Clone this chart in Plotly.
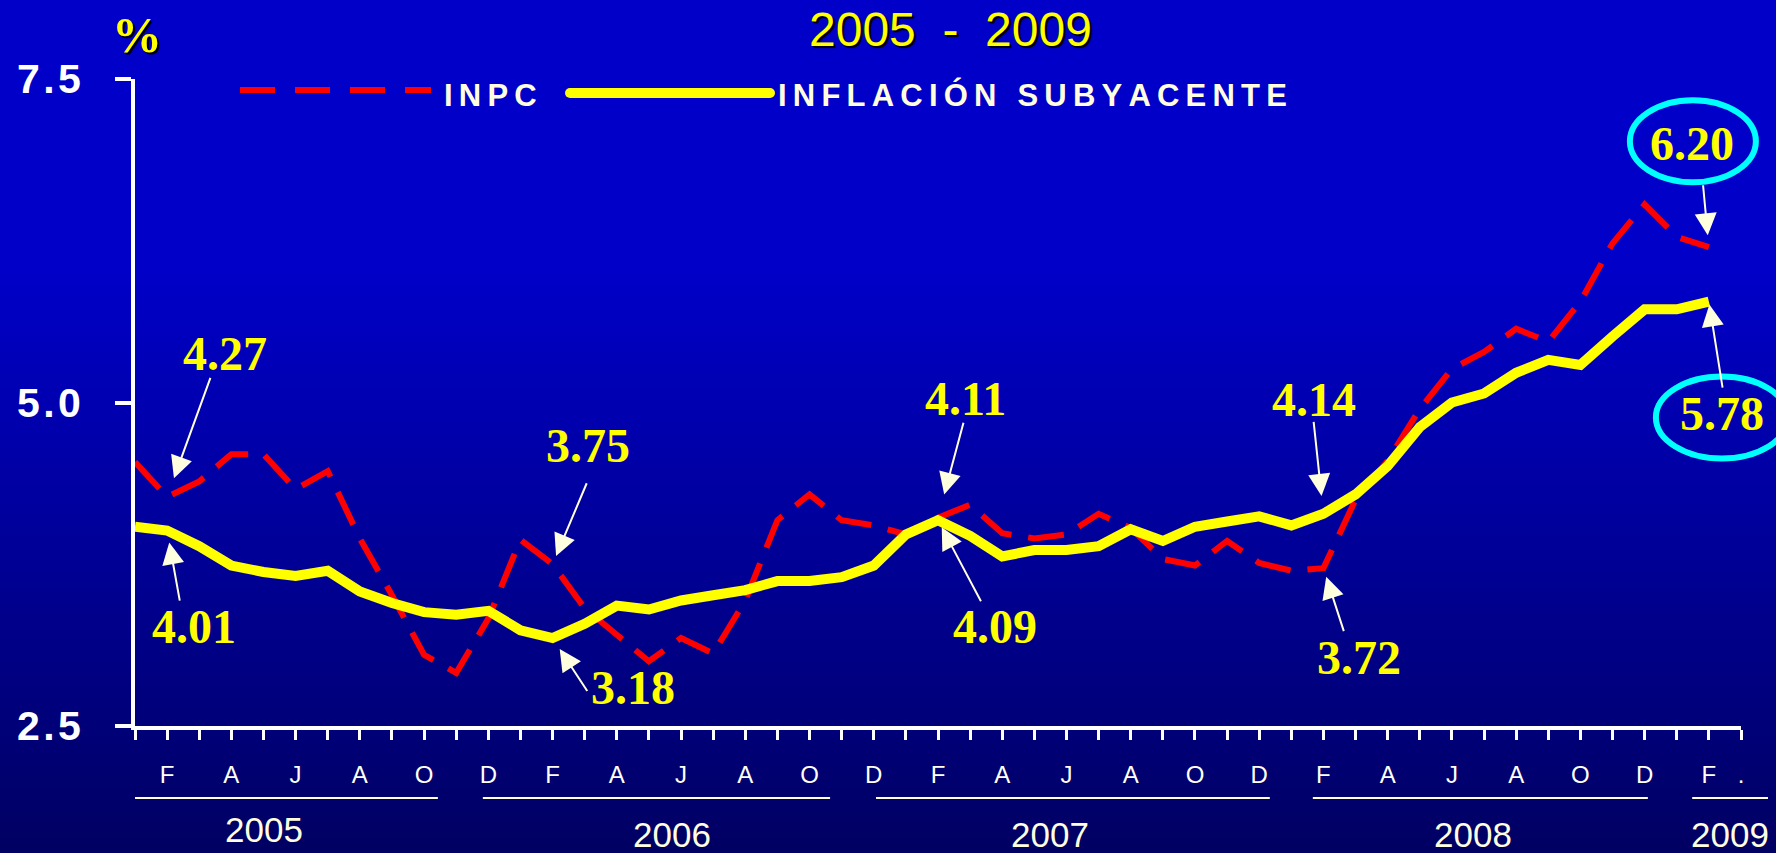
import base64
import struct
import zlib

import plotly.graph_objects as go

# ---------------------------------------------------------------------------
# Data: annual inflation, monthly, Jan 2005 - Feb 2009 (%)
# ---------------------------------------------------------------------------
inpc = [
    4.54, 4.27, 4.39, 4.60, 4.60, 4.33, 4.47, 3.95, 3.51, 3.05, 2.91, 3.33,   # 2005
    3.94, 3.75, 3.41, 3.20, 3.00, 3.18, 3.06, 3.47, 4.09, 4.29, 4.09, 4.05,   # 2006
    3.98, 4.11, 4.21, 3.99, 3.95, 3.98, 4.14, 4.03, 3.79, 3.74, 3.93, 3.76,   # 2007
    3.70, 3.72, 4.25, 4.55, 4.95, 5.26, 5.39, 5.57, 5.47, 5.78, 6.23, 6.53,   # 2008
    6.28, 6.20,                                                               # 2009
]
subyacente = [
    4.04, 4.01, 3.89, 3.74, 3.69, 3.66, 3.70, 3.54, 3.45, 3.38, 3.36, 3.39,   # 2005
    3.24, 3.18, 3.29, 3.43, 3.40, 3.47, 3.51, 3.55, 3.62, 3.62, 3.65, 3.74,   # 2006
    3.98, 4.09, 3.97, 3.81, 3.86, 3.86, 3.89, 4.02, 3.93, 4.04, 4.08, 4.12,   # 2007
    4.05, 4.14, 4.29, 4.51, 4.81, 5.00, 5.07, 5.23, 5.33, 5.29, 5.51, 5.72,   # 2008
    5.72, 5.78,                                                               # 2009
]
month_index = list(range(len(inpc)))

# one tick per month (plus one closing tick), letters every other month
tick_text = ["", "F", "", "A", "", "J", "", "A", "", "O", "", "D"] * 4 + ["", "F", "."]
tick_vals = list(range(len(tick_text)))

years = ["2005", "2006", "2007", "2008", "2009"]
y_ticks = [2.5, 5.0, 7.5]
y_tick_text = ["2\u200a.\u200a5", "5\u200a.\u200a0", "7\u200a.\u200a5"]

# ---------------------------------------------------------------------------
# Geometry / styling
# ---------------------------------------------------------------------------
W, H = 1776, 853
ML, MR, MT, MB = 135, 35, 79, 127
PW, PH = W - ML - MR, H - MT - MB
X_RANGE = [0, len(tick_text) - 1]
Y_RANGE = [2.5, 7.5]

RED = "#FF0000"
YELLOW = "#FFFF00"
CREAM = "#FFFFE0"
WHITE = "#FFFFFF"
CYAN = "#00FFFF"


def px_x(px):
    return (px - ML) / PW


def px_y(py):
    return (H - MB - py) / PH


def idx_paper(i):
    return (i - X_RANGE[0]) / (X_RANGE[1] - X_RANGE[0])


def val_paper(v):
    return (v - Y_RANGE[0]) / (Y_RANGE[1] - Y_RANGE[0])


# vertical background gradient as a tiny PNG
def gradient_png(rows):
    raw = b"".join(b"\x00" + bytes(c) * 2 for c in rows)

    def chunk(tag, data):
        return (struct.pack(">I", len(data)) + tag + data
                + struct.pack(">I", zlib.crc32(tag + data) & 0xFFFFFFFF))

    ihdr = struct.pack(">IIBBBBB", 2, len(rows), 8, 2, 0, 0, 0)
    png = (b"\x89PNG\r\n\x1a\n" + chunk(b"IHDR", ihdr)
           + chunk(b"IDAT", zlib.compress(raw, 9)) + chunk(b"IEND", b""))
    return "data:image/png;base64," + base64.b64encode(png).decode()


rows = []
for yy in range(H):
    if yy < 270:
        b = 200
    else:
        b = 200 - (yy - 270) / (H - 270) * (200 - 98)
    rows.append((0, 0, int(round(b))))
bg_src = gradient_png(rows)

fig = go.Figure()

fig.add_trace(go.Scatter(
    x=month_index, y=inpc, name="INPC", mode="lines",
    line=dict(color=RED, width=6, dash="36px,17px"),
))
fig.add_trace(go.Scatter(
    x=month_index, y=subyacente, name="INFLACIÓN SUBYACENTE", mode="lines",
    line=dict(color=YELLOW, width=10),
))

shapes = []
annotations = []

# value call-outs: (series, month, text dx, text dy, arrow-tail dx, arrow-tail dy, standoff)
series = {"inpc": inpc, "core": subyacente}
callouts = [
    ("inpc", 1, 58, -143, 44, -121, 20),
    ("core", 1, 27, 96, 13, 72, 12),
    ("inpc", 13, 35, -119, 35, -83, 9),
    ("core", 13, 80, 49, 36, 55, 13),
    ("inpc", 25, 27, -119, 26, -97, 24),
    ("core", 25, 57, 106, 44, 83, 8),
    ("core", 37, -9, -114, -10, -94, 18),
    ("inpc", 37, 36, 89, 21, 65, 9),
    ("inpc", 49, -17, -104, -6, -64, 12),
    ("core", 49, 13, 112, 14, 88, 3),
]
for key, i, tdx, tdy, adx, ady, so in callouts:
    v = series[key][i]
    annotations.append(dict(
        x=i, y=v, xref="x", yref="y", text=" ", showarrow=True,
        ax=adx, ay=ady, standoff=so, arrowhead=2, arrowsize=2.2,
        arrowwidth=2, arrowcolor=CREAM, font=dict(size=1),
    ))
    annotations.append(dict(
        x=i, y=v, xref="x", yref="y", text=f"<b>{v:.2f}</b>", showarrow=False,
        xshift=tdx, yshift=-tdy,
        font=dict(family="Liberation Serif", size=48, color=YELLOW),
    ))

# ellipses around the latest readings: (series, month, centre dx, centre dy, rx, ry)
rings = [("inpc", 49, -16, -106, 63, 41), ("core", 49, 13, 116, 66, 41)]
for key, i, cdx, cdy, rx, ry in rings:
    v = series[key][i]
    shapes.append(dict(
        type="circle", xref="paper", yref="paper",
        xsizemode="pixel", ysizemode="pixel",
        xanchor=idx_paper(i), yanchor=val_paper(v),
        x0=cdx - rx, x1=cdx + rx, y0=-cdy - ry, y1=-cdy + ry,
        line=dict(color=CYAN, width=6), layer="above",
    ))

# year brackets under the month letters: (start month, end month, label centre month, label y)
year_spans = [(0, 9.43, 4.02, 829), (10.83, 21.64, 16.72, 834), (23.07, 35.33, 28.49, 834),
              (36.67, 47.1, 41.66, 834), (48.48, 50.84, 49.66, 834)]
for label, (a, b, c, ly) in zip(years, year_spans):
    shapes.append(dict(type="line", xref="paper", yref="paper",
                       x0=idx_paper(a), x1=idx_paper(b), y0=px_y(798), y1=px_y(798),
                       line=dict(color=CREAM, width=2)))
    annotations.append(dict(x=idx_paper(c), y=px_y(ly), xref="paper", yref="paper",
                            text=label, showarrow=False, xanchor="center", yanchor="middle",
                            font=dict(family="Liberation Sans", size=35, color=CREAM)))

# legend drawn by hand
shapes.append(dict(type="line", xref="paper", yref="paper",
                   x0=px_x(240), x1=px_x(431), y0=px_y(90), y1=px_y(90),
                   line=dict(color=RED, width=6, dash="35px,20px")))
shapes.append(dict(type="line", xref="paper", yref="paper",
                   x0=px_x(570), x1=px_x(770), y0=px_y(93), y1=px_y(93),
                   line=dict(color=YELLOW, width=10)))
for cx in (570, 770):
    shapes.append(dict(type="circle", xref="paper", yref="paper",
                       x0=px_x(cx - 5), x1=px_x(cx + 5), y0=px_y(98), y1=px_y(88),
                       fillcolor=YELLOW, line=dict(width=0)))


def spaced(s):
    return "\u2009".join(s)


for text, left in (("INPC", 442), ("INFLACIÓN SUBYACENTE", 776)):
    annotations.append(dict(x=px_x(left), y=px_y(95), xref="paper", yref="paper",
                            text=f"<b>{spaced(text)}</b>", showarrow=False,
                            xanchor="left", yanchor="middle",
                            font=dict(family="Liberation Sans", size=31, color=CREAM)))

# title and unit
annotations.append(dict(x=px_x(950), y=px_y(30), xref="paper", yref="paper",
                        text="2005\u00a0\u00a0-\u00a0\u00a02009", showarrow=False,
                        xanchor="center", yanchor="middle",
                        font=dict(family="Liberation Sans", size=48, color=YELLOW,
                                  shadow="2px 2px 1px #000000")))
annotations.append(dict(x=px_x(137), y=px_y(35), xref="paper", yref="paper",
                        text="<b>%</b>", showarrow=False, xanchor="center", yanchor="middle",
                        font=dict(family="Liberation Serif", size=50, color=YELLOW,
                                  shadow="2px 2px 1px #000000")))

fig.update_layout(
    width=W, height=H,
    margin=dict(l=ML, r=MR, t=MT, b=MB, pad=0),
    paper_bgcolor="#00009A",
    plot_bgcolor="rgba(0,0,0,0)",
    showlegend=False,
    images=[dict(source=bg_src, xref="paper", yref="paper",
                 x=-ML / PW, y=1 + MT / PH, sizex=W / PW, sizey=H / PH,
                 xanchor="left", yanchor="top", sizing="stretch", layer="below")],
    shapes=shapes,
    annotations=annotations,
    xaxis=dict(
        range=X_RANGE, tickmode="array", tickvals=tick_vals, ticktext=tick_text,
        showgrid=False, zeroline=False, showline=True, linecolor=WHITE, linewidth=4,
        ticks="outside", ticklen=10, tickwidth=3, tickcolor=WHITE,
        ticklabelstandoff=14,
        tickfont=dict(family="Liberation Sans", size=24, color="#FFFFF5"),
    ),
    yaxis=dict(
        range=Y_RANGE, tickmode="array", tickvals=y_ticks, ticktext=y_tick_text,
        showgrid=False, zeroline=False, showline=True, linecolor=WHITE, linewidth=4,
        ticks="outside", ticklen=16, tickwidth=4, tickcolor=WHITE,
        ticklabelstandoff=26,
        tickfont=dict(family="Liberation Sans", size=41, color=WHITE, weight="bold"),
    ),
)

fig.write_html("out.html")
